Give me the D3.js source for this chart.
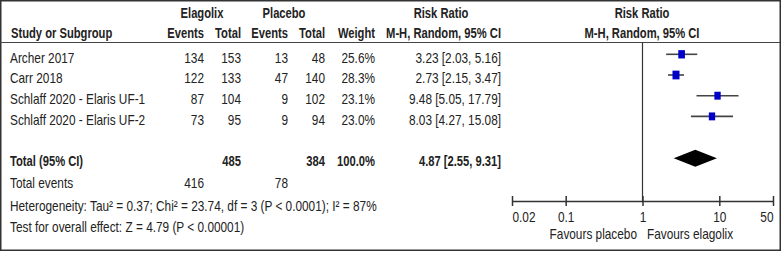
<!DOCTYPE html>
<html><head><meta charset="utf-8">
<script src="https://cdn.jsdelivr.net/npm/d3@7"></script>
<style>
html,body{margin:0;padding:0;background:#fff;}
text{font-family:"Liberation Sans",Arial,sans-serif;font-size:14px;fill:#222;}
.b{font-weight:bold;}
</style></head>
<body>
<svg id="c" width="783" height="254"></svg>
<script>
const studies = ["Archer 2017", "Carr 2018", "Schlaff 2020 - Elaris UF-1", "Schlaff 2020 - Elaris UF-2"];
const elaEvents = [134, 122, 87, 73];
const elaTotal = [153, 133, 104, 95];
const plaEvents = [13, 47, 9, 9];
const plaTotal = [48, 140, 102, 94];
const weights = [25.6, 28.3, 23.1, 23.0];
const rr = [3.23, 2.73, 9.48, 8.03];
const rrLow = [2.03, 2.15, 5.05, 4.27];
const rrHigh = [5.16, 3.47, 17.79, 15.08];
const pooled = {est: 4.87, low: 2.55, high: 9.31, elaTotal: 485, plaTotal: 384, weight: 100.0, elaEvents: 416, plaEvents: 78};
const ticks = [0.02, 0.1, 1, 10, 50];
const tickLabels = ["0.02", "0.1", "1", "10", "50"];
const heterogeneity = "Heterogeneity: Tau² = 0.37; Chi² = 23.74, df = 3 (P < 0.0001); I² = 87%";
const overall = "Test for overall effect: Z = 4.79 (P < 0.00001)";

const svg = d3.select("#c");
const x = d3.scaleLog().domain([0.02, 50]).range([512, 773]);
const rowY = d3.scaleLinear().domain([0, 1]).range([62.5, 83.2]);
const sz = d3.scaleSqrt().domain([0, 28.3]).range([0, 7]);
const SR = 0.845, SB = 0.80;

// frame
svg.append("rect").attr("x", 0.75).attr("y", 0.75).attr("width", 779.5).attr("height", 249.5)
  .attr("fill", "none").attr("stroke", "#333").attr("stroke-width", 1.5);
// header line
svg.append("line").attr("x1", 0).attr("x2", 780).attr("y1", 42.5).attr("y2", 42.5)
  .attr("stroke", "#444").attr("stroke-width", 1.2);

function t(xp, y, s, anchor, cls) {
  const k = cls === "b" ? SB : SR;
  return svg.append("text").attr("x", 0).attr("y", 0)
    .attr("transform", `translate(${xp},${y}) scale(${k},1)`)
    .attr("text-anchor", anchor || "start")
    .attr("class", cls || null).text(s);
}
// headers
t(202, 17.5, "Elagolix", "middle", "b");
t(284, 17.5, "Placebo", "middle", "b");
t(441, 17.5, "Risk Ratio", "middle", "b");
t(642, 17.5, "Risk Ratio", "middle", "b");
t(11, 38, "Study or Subgroup", "start", "b");
t(204, 38, "Events", "end", "b");
t(241, 38, "Total", "end", "b");
t(288, 38, "Events", "end", "b");
t(325, 38, "Total", "end", "b");
t(375, 38, "Weight", "end", "b");
t(501, 38, "M-H, Random, 95% CI", "end", "b");
t(642, 38, "M-H, Random, 95% CI", "middle", "b");

// study rows
const fmt2 = d3.format(".2f");
studies.forEach((s, i) => {
  const y = rowY(i);
  t(10, y, s);
  t(204, y, elaEvents[i], "end");
  t(241, y, elaTotal[i], "end");
  t(288, y, plaEvents[i], "end");
  t(325, y, plaTotal[i], "end");
  t(375, y, weights[i].toFixed(1) + "%", "end");
  t(501, y, `${fmt2(rr[i])} [${fmt2(rrLow[i])}, ${fmt2(rrHigh[i])}]`, "end");
  const cy = y - 8.2;
  svg.append("line").attr("x1", x(rrLow[i])).attr("x2", x(rrHigh[i])).attr("y1", cy).attr("y2", cy)
    .attr("stroke", "#444").attr("stroke-width", 1.6);
  const w = sz(weights[i]), h = w * 1.25;
  svg.append("rect").attr("x", x(rr[i]) - w / 2).attr("y", cy - h / 2).attr("width", w).attr("height", h)
    .attr("fill", "#0000c8");
});

// total row
const ty = 165.7;
t(10, ty, "Total (95% CI)", "start", "b");
t(241, ty, pooled.elaTotal, "end", "b");
t(325, ty, pooled.plaTotal, "end", "b");
t(375, ty, pooled.weight.toFixed(1) + "%", "end", "b");
t(501, ty, `${fmt2(pooled.est)} [${fmt2(pooled.low)}, ${fmt2(pooled.high)}]`, "end", "b");
const dy = ty - 7.5;
svg.append("path").attr("d", `M${x(pooled.low)},${dy} L${x(pooled.est)},${dy - 8.5} L${x(pooled.high)},${dy} L${x(pooled.est)},${dy + 8.5} Z`)
  .attr("fill", "#000");

t(10, 188, "Total events");
t(204, 188, pooled.elaEvents, "end");
t(288, 188, pooled.plaEvents, "end");
t(10, 211, heterogeneity);
t(10, 232, overall);

// null line
const axY = 201;
svg.append("line").attr("x1", x(1)).attr("x2", x(1)).attr("y1", 42.5).attr("y2", axY)
  .attr("stroke", "#333").attr("stroke-width", 1.2);

// axis
const axis = d3.axisBottom(x).tickValues(ticks).tickFormat((d, i) => tickLabels[i]).tickSize(0);
const ag = svg.append("g").attr("transform", `translate(0,${axY})`).call(axis);
ag.select(".domain").attr("stroke", "#333").attr("stroke-width", 1.5);
ag.selectAll(".tick text").attr("y", 0).attr("x", 0).attr("dy", null)
  .attr("transform", `translate(0,20.7) scale(${SR},1)`)
  .style("font-family", '"Liberation Sans",Arial,sans-serif').style("font-size", "14px").attr("fill", "#222")
  .attr("text-anchor", (d, i) => i === 0 ? "start" : (i === ticks.length - 1 ? "end" : "middle"));
ag.selectAll(".tick line").attr("y1", -5).attr("y2", 5).attr("stroke", "#333").attr("stroke-width", 1.5);

t(637, 239, "Favours placebo", "end");
t(647, 239, "Favours elagolix", "start");
</script>
</body></html>
